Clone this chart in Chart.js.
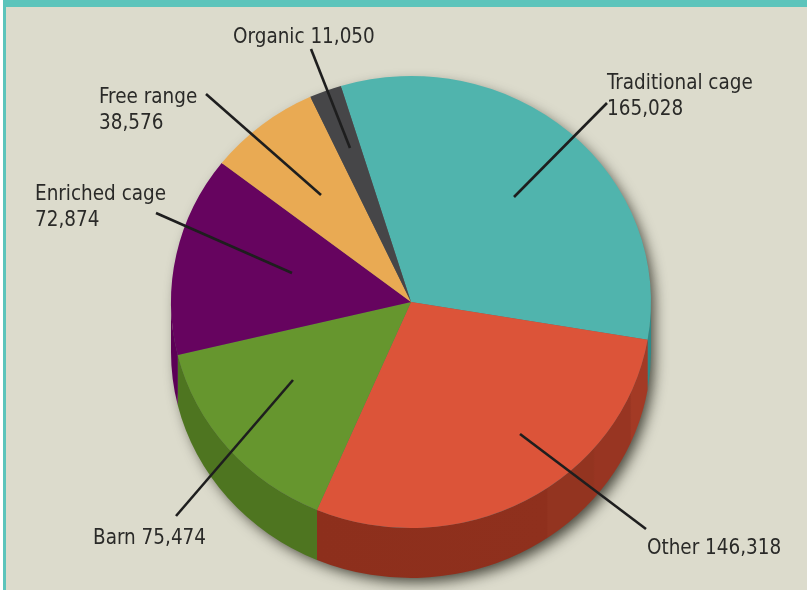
<!DOCTYPE html>
<html><head><meta charset="utf-8">
<script src="https://cdn.jsdelivr.net/npm/chart.js@4"></script>
<style>
html,body{margin:0;padding:0;background:#fff;width:807px;height:590px;overflow:hidden}
#frame{position:absolute;left:3px;top:0;width:804px;height:590px;background:#dcdbcc;box-sizing:border-box;border-left:3px solid #5cc4bb;border-top:7px solid #5cc4bb}
#c{position:absolute;left:0;top:0}
</style></head><body>
<div id="frame"></div>
<canvas id="c" width="807" height="590" style="width:807px;height:590px"></canvas>
<script>
const categories=["Traditional cage","Other","Barn","Enriched cage","Free range","Organic"];
const hens=[165028,146318,75474,72874,38576,11050];
const topColours=["#50b4ad","#dc5439","#66962e","#66045f","#e9aa53","#464648"];
const sideColours=["#2e8a88","#8d2f1c","#4e7520","#5c0056","#e9aa53","#464648"];
const labelLines=[["Traditional cage","165,028"],["Other 146,318"],["Barn 75,474"],["Enriched cage","72,874"],["Free range","38,576"],["Organic 11,050"]];
const labelAnchors=[[607,89],[647,554],[93,544],[35,200],[99,103],[233,43]];
const leaderLines=[[607,103,514,197],[646,529,520,434],[176,516,293,380],[156,213,292,273],[206,94,321,195],[311,49,350,148]];
const LINE_GAP=26, DEPTH=50, SQUASH=226/240, TEXT_SQUEEZE=0.93;

const pie3d={id:'pie3d',
 beforeDatasetsDraw(chart){
  const ctx=chart.ctx, arcs=chart.getDatasetMeta(0).data;
  const cx=arcs[0].x, cy=arcs[0].y, r=arcs[0].outerRadius;
  const ell=(off,a0,a1,ccw,rad)=>{const R=rad||r;ctx.ellipse(cx,cy+off,R,R*SQUASH,0,a0,a1,ccw);};
  // soft shadow cast by the whole solid
  ctx.save();
  ctx.shadowColor='rgba(15,15,5,0.75)';ctx.shadowBlur=14;ctx.shadowOffsetX=5;ctx.shadowOffsetY=6;
  ctx.fillStyle='#666';
  ctx.beginPath();ell(0,Math.PI,2*Math.PI,false,r-2);ell(DEPTH,0,Math.PI,false,r-2);ctx.closePath();ctx.fill();
  ctx.restore();
  // side walls
  arcs.forEach((a,i)=>{
   const a0=Math.max(a.startAngle,0), a1=Math.min(a.endAngle,Math.PI);
   if(a1<=a0) return;
   let fill=sideColours[i];
   if(categories[i]==="Other"){
     const g=ctx.createLinearGradient(316,0,650,0);
     g.addColorStop(0,'#8d2f1c');g.addColorStop(0.69,'#8f301d');g.addColorStop(0.695,'#933420');
     g.addColorStop(0.83,'#933420');g.addColorStop(0.835,'#983522');g.addColorStop(0.94,'#983522');g.addColorStop(0.945,'#a33a25');g.addColorStop(1,'#a33a25');
     fill=g;
   }
   ctx.fillStyle=fill;
   ctx.beginPath();ell(DEPTH,a0,a1,false);ell(0,a1,a0,true);ctx.closePath();ctx.fill();
  });
  // squash the top face
  ctx.save();
  ctx.translate(cx,cy);ctx.scale(1,SQUASH);ctx.translate(-cx,-cy);
 },
 afterDatasetsDraw(chart){
  const ctx=chart.ctx;
  ctx.restore();
  ctx.save();
  ctx.strokeStyle='#1e1e1e';ctx.lineWidth=2.6;ctx.lineCap='butt';
  leaderLines.forEach(l=>{ctx.beginPath();ctx.moveTo(l[0],l[1]);ctx.lineTo(l[2],l[3]);ctx.stroke();});
  ctx.fillStyle='#2a2a28';
  ctx.font='22px "DejaVu Sans Condensed","DejaVu Sans"';
  ctx.textAlign='left';ctx.textBaseline='alphabetic';
  labelLines.forEach((lines,i)=>{
   lines.forEach((t,j)=>{
    ctx.save();
    ctx.translate(labelAnchors[i][0],labelAnchors[i][1]+j*LINE_GAP);
    ctx.scale(TEXT_SQUEEZE,1);
    ctx.fillText(t,0,0);
    ctx.restore();
   });
  });
  ctx.restore();
 }
};

new Chart(document.getElementById('c'),{
 type:'pie',
 data:{labels:categories,datasets:[{data:hens,backgroundColor:topColours,borderWidth:0,hoverOffset:0}]},
 options:{
  responsive:false,animation:false,rotation:-17,
  layout:{padding:{left:171,right:156,top:62,bottom:48}},
  plugins:{legend:{display:false},tooltip:{enabled:false},title:{display:false}},
  events:[]
 },
 plugins:[pie3d]
});
</script>
</body></html>
